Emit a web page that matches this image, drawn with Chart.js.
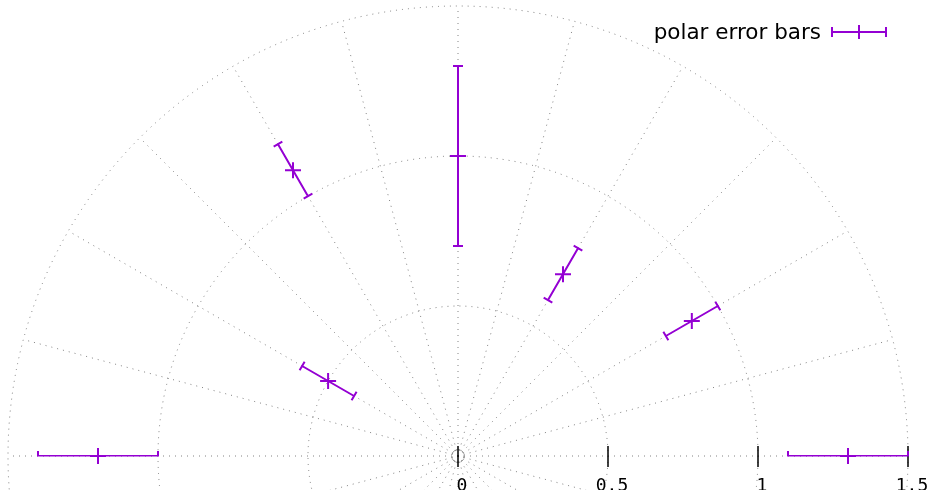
<!DOCTYPE html>
<html>
<head>
<meta charset="utf-8">
<script src="https://cdn.jsdelivr.net/npm/chart.js@4"></script>
<style>
  html, body { margin: 0; padding: 0; background: #ffffff; }
  #c { display: block; }
</style>
</head>
<body>
<canvas id="c" width="938" height="490"></canvas>
<script>
// ---- data ----
const thetaDeg = [0, 30, 60, 90, 120, 150, 180];
const radius   = [1.3, 0.9, 0.7, 1.0, 1.1, 0.5, 1.2];
const radErr   = [0.2, 0.1, 0.1, 0.3, 0.1, 0.1, 0.2];
const rTicks      = [0, 0.5, 1, 1.5];
const rTickLabels = ['0', '0.5', '1', '1.5'];
const gridCircles = [0.5, 1.0, 1.5];
const gridAngleStep = 15;
const seriesLabel = 'polar error bars';

const COLOR = '#9400d3';
const toRad = d => d * Math.PI / 180;
const points = thetaDeg.map((t, i) => ({
  x: radius[i] * Math.cos(toRad(t)),
  y: radius[i] * Math.sin(toRad(t))
}));

const gridPlugin = {
  id: 'polarGrid',
  beforeDatasetsDraw(chart) {
    const ctx = chart.ctx, xs = chart.scales.x, ys = chart.scales.y;
    const cx = xs.getPixelForValue(0), cy = ys.getPixelForValue(0);
    const pr = r => xs.getPixelForValue(r) - cx;
    ctx.save();
    ctx.strokeStyle = 'rgba(90,90,90,0.75)';
    ctx.lineWidth = 1;
    ctx.setLineDash([1, 5]);
    gridCircles.forEach(r => {
      ctx.beginPath();
      ctx.arc(cx, cy, pr(r), 0, Math.PI * 2);
      ctx.stroke();
    });
    ctx.beginPath();
    ctx.arc(cx, cy, 6, 0, Math.PI * 2);
    ctx.setLineDash([2, 2]);
    ctx.stroke();
    ctx.setLineDash([1, 5]);
    const rMax = gridCircles[gridCircles.length - 1];
    for (let a = 0; a < 360; a += gridAngleStep) {
      const ex = xs.getPixelForValue(rMax * Math.cos(toRad(a)));
      const ey = ys.getPixelForValue(rMax * Math.sin(toRad(a)));
      ctx.beginPath();
      ctx.moveTo(cx, cy);
      ctx.lineTo(ex, ey);
      ctx.stroke();
    }
    ctx.setLineDash([]);
    ctx.strokeStyle = '#000';
    ctx.lineWidth = 1.5;
    ctx.fillStyle = '#000';
    ctx.font = '18px "DejaVu Sans Mono"';
    ctx.textAlign = 'center';
    ctx.textBaseline = 'top';
    rTicks.forEach((r, i) => {
      const px = xs.getPixelForValue(r);
      ctx.beginPath();
      ctx.moveTo(px, cy - 10);
      ctx.lineTo(px, cy + 11);
      ctx.stroke();
      ctx.fillText(rTickLabels[i], px + 4, cy + 21);
    });
    ctx.restore();
  }
};

const errPlugin = {
  id: 'polarErr',
  afterDatasetsDraw(chart) {
    const ctx = chart.ctx, xs = chart.scales.x, ys = chart.scales.y;
    const cy0 = ys.getPixelForValue(0);
    ctx.save();
    ctx.beginPath();
    ctx.rect(0, 0, chart.width, cy0 + 0.5);
    ctx.clip();
    ctx.strokeStyle = COLOR;
    ctx.lineWidth = 2;
    const cap = 5;
    thetaDeg.forEach((t, i) => {
      const a = toRad(t);
      const r1 = radius[i] - radErr[i], r2 = radius[i] + radErr[i];
      const x1 = xs.getPixelForValue(r1 * Math.cos(a)), y1 = ys.getPixelForValue(r1 * Math.sin(a));
      const x2 = xs.getPixelForValue(r2 * Math.cos(a)), y2 = ys.getPixelForValue(r2 * Math.sin(a));
      const dx = x2 - x1, dy = y2 - y1, L = Math.hypot(dx, dy);
      const nx = -dy / L * cap, ny = dx / L * cap;
      ctx.beginPath();
      ctx.moveTo(x1, y1); ctx.lineTo(x2, y2);
      ctx.moveTo(x1 - nx, y1 - ny); ctx.lineTo(x1 + nx, y1 + ny);
      ctx.moveTo(x2 - nx, y2 - ny); ctx.lineTo(x2 + nx, y2 + ny);
      ctx.stroke();
    });
    ctx.restore();
    ctx.save();
    ctx.fillStyle = '#000';
    ctx.font = '21.5px "DejaVu Sans"';
    ctx.textAlign = 'right';
    ctx.textBaseline = 'middle';
    ctx.fillText(seriesLabel, 821, 33);
    ctx.strokeStyle = COLOR;
    ctx.lineWidth = 2;
    const lx1 = 832, lx2 = 886, ly = 32, lm = (lx1 + lx2) / 2;
    ctx.beginPath();
    ctx.moveTo(lx1, ly); ctx.lineTo(lx2, ly);
    ctx.moveTo(lx1, ly - 5); ctx.lineTo(lx1, ly + 5);
    ctx.moveTo(lx2, ly - 5); ctx.lineTo(lx2, ly + 5);
    ctx.moveTo(lm, ly - 7); ctx.lineTo(lm, ly + 7);
    ctx.stroke();
    ctx.restore();
  }
};

new Chart(document.getElementById('c'), {
  type: 'scatter',
  data: {
    datasets: [{
      label: seriesLabel,
      data: points,
      pointStyle: 'cross',
      pointRadius: 8,
      pointHoverRadius: 8,
      borderColor: COLOR,
      backgroundColor: COLOR,
      borderWidth: 2,
      showLine: false,
      clip: false
    }]
  },
  options: {
    responsive: false,
    animation: false,
    devicePixelRatio: 1,
    layout: { padding: 0, autoPadding: false },
    plugins: { legend: { display: false }, tooltip: { enabled: false } },
    events: [],
    scales: {
      x: { type: 'linear', min: -458 / 300, max: 480 / 300, display: false },
      y: { type: 'linear', min: -34 / 300, max: 456 / 300, display: false }
    }
  },
  plugins: [gridPlugin, errPlugin]
});
</script>
</body>
</html>
